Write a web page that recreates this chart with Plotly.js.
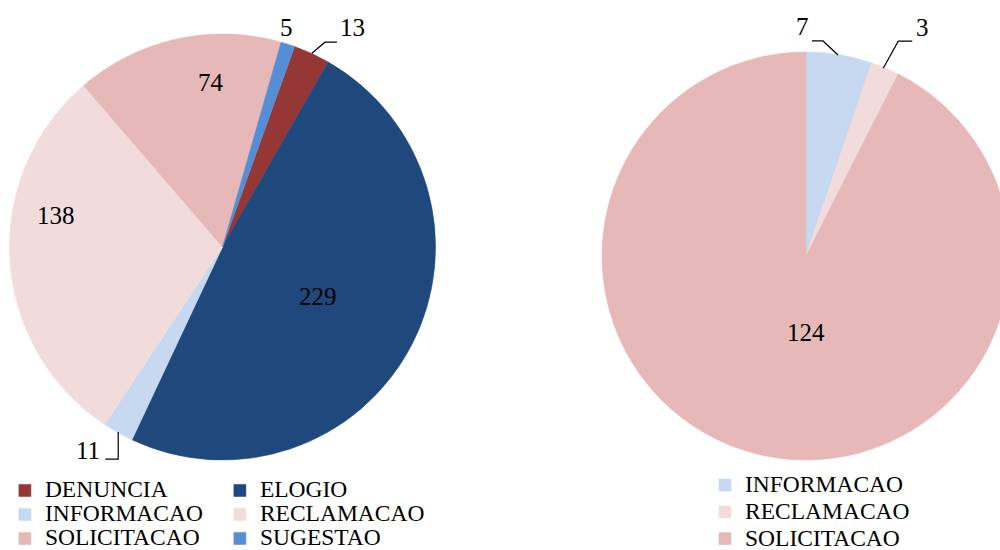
<!DOCTYPE html>
<html><head><meta charset="utf-8">
<script src="https://cdn.plot.ly/plotly-3.0.1.min.js"></script>
<style>
html,body{margin:0;padding:0;overflow:hidden;background:#fff;width:1000px;height:550px}
#chart{width:1040px;height:550px}
</style>
</head><body><div id="chart"></div>
<script>
// ---- data ----
const leftCategories = ['DENUNCIA', 'ELOGIO', 'INFORMACAO', 'RECLAMACAO', 'SOLICITACAO', 'SUGESTAO'];
const leftValues = [13, 229, 11, 138, 74, 5];
const rightCategories = ['INFORMACAO', 'RECLAMACAO', 'SOLICITACAO'];
const rightValues = [7, 3, 124];

// ---- styles ----
const categoryColors = {
  DENUNCIA: '#953735', ELOGIO: '#1F497D', INFORMACAO: '#C6D9F1',
  RECLAMACAO: '#F2DCDB', SOLICITACAO: '#E6B9B8', SUGESTAO: '#558ED5'
};
const FONT = '"Liberation Serif", "Times New Roman", serif';
const W = 1040, H = 550, ML = 5;
const plotW = W - ML, plotH = H;
const leftPie = {cx: 222.5, cy: 247, r: 213, rotation: 19.8};
const rightPie = {cx: 806, cy: 256, r: 204, rotation: 0};
// label placement: radius fraction + angle tweak, optional elbow connector (px offsets from label)
const leftLabelStyle = [
  {rf: 1.20, dt: 5.9, line: [[-16, 15], [-28, 15], [-41, 26]]},
  {rf: 0.506, dt: 0},
  {rf: 1.143, dt: 4.1, line: [[17, 9], [30, 9], [30, -18]]},
  {rf: 0.796, dt: 14.4},
  {rf: 0.772, dt: 8.4},
  {rf: 1.076, dt: -1.6}
];
const rightLabelStyle = [
  {rf: 1.123, dt: -10.4, line: [[10, 14], [21, 14], [36, 28]]},
  {rf: 1.258, dt: 4.1, line: [[-10, 14], [-24, 14], [-39, 41]]},
  {rf: 0.377, dt: -13.4}
];

function domainOf(p) {
  return {
    x: [(p.cx - p.r - ML) / plotW, (p.cx + p.r - ML) / plotW],
    y: [(H - p.cy - p.r) / H, (H - p.cy + p.r) / H]
  };
}
const px2x = px => (px - ML) / plotW;
const py2y = py => (H - py) / H;

function legendLabel(c) { return '<span style="font-size:23.5px">' + c + '</span>'; }

function makePie(cats, vals, geo, legendId, group) {
  const colors = cats.map(c => categoryColors[c]);
  return {
    type: 'pie',
    labels: cats.map(legendLabel),
    values: vals,
    sort: false,
    direction: 'clockwise',
    rotation: geo.rotation,
    domain: domainOf(geo),
    marker: {colors: colors, line: {color: colors, width: 0.6}},
    textinfo: 'none',
    hoverinfo: 'skip',
    legend: legendId,
    legendgroup: group,
    showlegend: true
  };
}

const annotations = [];
const shapes = [];
function addLabels(vals, geo, styles) {
  const total = vals.reduce((a, b) => a + b, 0);
  let cum = 0;
  vals.forEach((v, i) => {
    const st = styles[i];
    const mid = geo.rotation + (cum + v / 2) / total * 360 + st.dt;
    cum += v;
    const a = mid * Math.PI / 180;
    const lx = geo.cx + st.rf * geo.r * Math.sin(a);
    const ly = geo.cy - st.rf * geo.r * Math.cos(a);
    annotations.push({
      xref: 'paper', yref: 'paper', x: px2x(lx), y: py2y(ly),
      xanchor: 'center', yanchor: 'middle', showarrow: false,
      text: String(v), font: {family: FONT, size: 25, color: '#000'}
    });
    if (st.line) {
      const path = st.line.map((p, k) => (k ? 'L' : 'M') + px2x(lx + p[0]) + ',' + py2y(ly + p[1])).join(' ');
      shapes.push({type: 'path', xref: 'paper', yref: 'paper', path: path,
        line: {color: '#000', width: 1.2}});
    }
  });
}
addLabels(leftValues, leftPie, leftLabelStyle);
addLabels(rightValues, rightPie, rightLabelStyle);

const data = [
  makePie(leftCategories, leftValues, leftPie, 'legend', ''),
  makePie(rightCategories, rightValues, rightPie, 'legend2', 'right')
];

const layout = {
  width: W, height: H,
  margin: {l: ML, r: 0, t: 0, b: 0, pad: 0, autoexpand: false},
  paper_bgcolor: '#fff',
  font: {family: FONT, color: '#000'},
  showlegend: true,
  legend: {
    orientation: 'h', x: -0.0001, xanchor: 'left', y: py2y(473.4), yanchor: 'top',
    entrywidth: 170, entrywidthmode: 'pixels', traceorder: 'normal',
    bgcolor: 'rgba(0,0,0,0)', font: {family: FONT, size: 16.15, color: '#000'}
  },
  legend2: {
    orientation: 'v', x: px2x(705), xanchor: 'left', y: py2y(466.7), yanchor: 'top',
    traceorder: 'normal',
    bgcolor: 'rgba(0,0,0,0)', font: {family: FONT, size: 18.3, color: '#000'}
  },
  annotations: annotations,
  shapes: shapes
};

Plotly.newPlot('chart', data, layout, {staticPlot: true, displayModeBar: false});
</script>
</body></html>
